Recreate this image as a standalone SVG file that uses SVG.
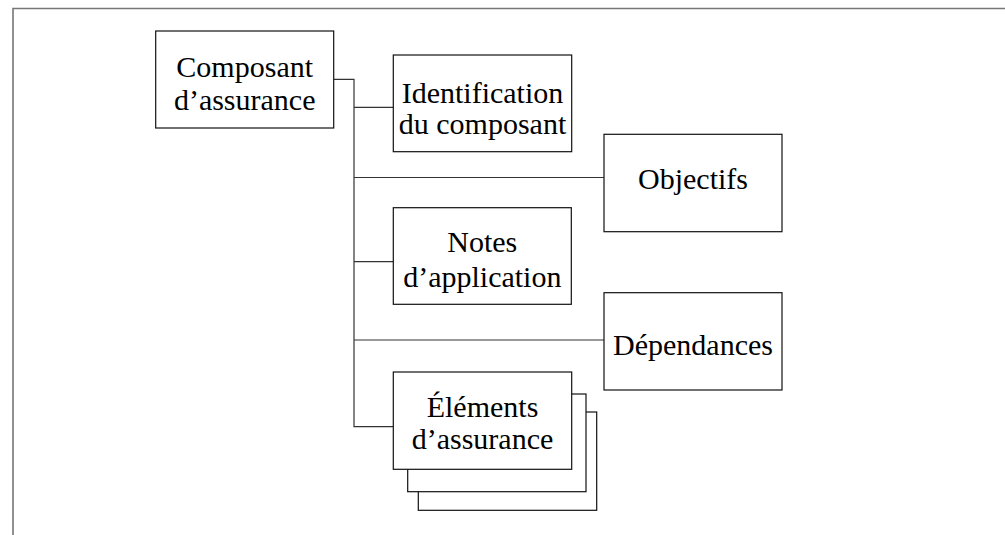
<svg xmlns="http://www.w3.org/2000/svg" width="1005" height="535" viewBox="0 0 1005 535">
<style>
.box{fill:#fff;stroke:#111;stroke-width:1.2}
.lbl{font-family:"Liberation Serif","Times New Roman",serif;font-size:30px;fill:#000;text-anchor:middle}
.con{fill:none;stroke:#333;stroke-width:1.2}
.frame{fill:none;stroke:#777;stroke-width:1.6}
</style>
<rect width="1005" height="535" fill="#fff"/>
<path class="frame" d="M13 535 V8.5 H1005"/>
<g id="connectors">
<path class="con" d="M333.7 79.3 H354 V426.7 H393.3"/>
<path class="con" d="M354 107.3 H393.3"/>
<path class="con" d="M354 177.5 H604"/>
<path class="con" d="M354 261.7 H393.3"/>
<path class="con" d="M354 340 H604"/>
</g>
<g id="composant">
<rect class="box" x="155.7" y="31" width="178" height="97"/>
<text class="lbl" x="244.7" y="77.3">Composant</text>
<text class="lbl" x="244.7" y="110">d’assurance</text>
</g>
<g id="identification">
<rect class="box" x="393.3" y="55" width="178.4" height="96.7"/>
<text class="lbl" x="482.5" y="102.7">Identification</text>
<text class="lbl" x="482.5" y="134">du composant</text>
</g>
<g id="objectifs">
<rect class="box" x="604" y="134.3" width="178" height="97.4"/>
<text class="lbl" x="693" y="189.3">Objectifs</text>
</g>
<g id="notes">
<rect class="box" x="393.3" y="207.7" width="178" height="96.6"/>
<text class="lbl" x="482.3" y="251.7">Notes</text>
<text class="lbl" x="482.3" y="286.7">d’application</text>
</g>
<g id="dependances">
<rect class="box" x="604" y="292.7" width="178" height="97.3"/>
<text class="lbl" x="693" y="355">Dépendances</text>
</g>
<g id="elements">
<rect class="box" x="418.3" y="412" width="178.4" height="98.3"/>
<rect class="box" x="407.7" y="394" width="178.3" height="97.7"/>
<rect class="box" x="393.3" y="372" width="178.4" height="97.3"/>
<text class="lbl" x="482.5" y="417.3">Éléments</text>
<text class="lbl" x="482.5" y="449">d’assurance</text>
</g>
</svg>
